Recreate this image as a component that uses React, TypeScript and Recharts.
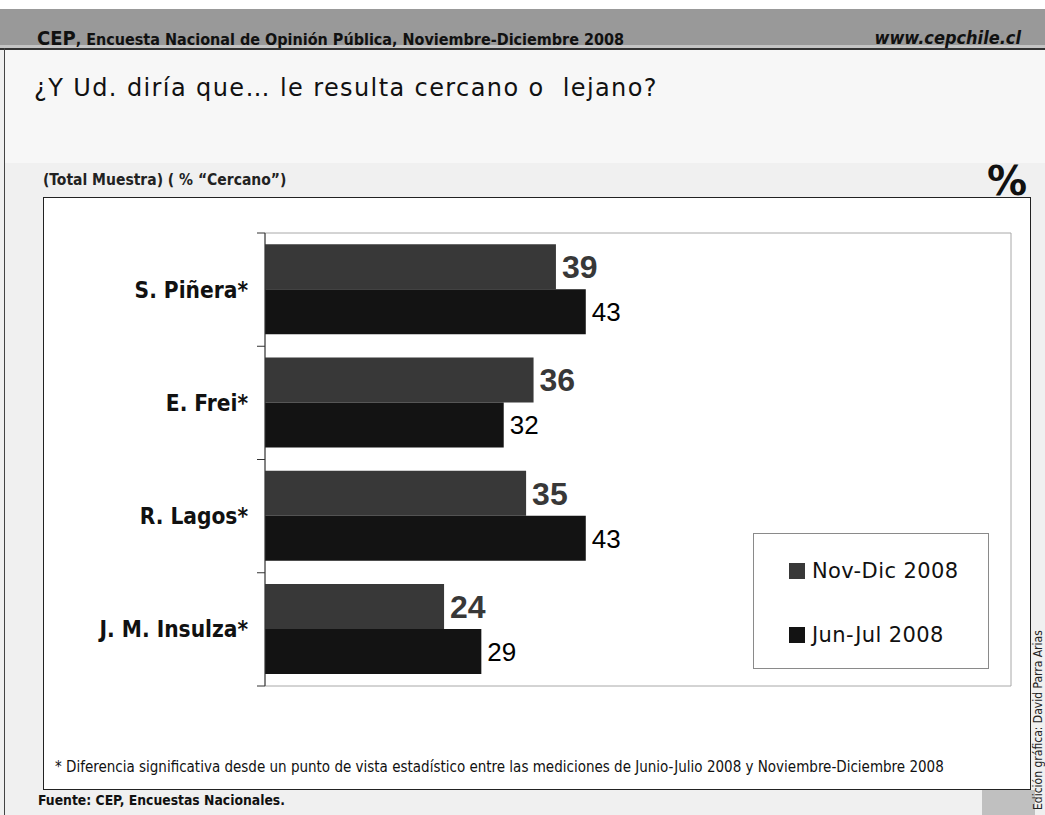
import React from 'react';
import { BarChart, Bar, XAxis, YAxis, Legend, LabelList, ReferenceArea } from 'recharts';

// values
const candidates = ['S. Piñera*', 'E. Frei*', 'R. Lagos*', 'J. M. Insulza*'];
const novDic2008 = [39, 36, 35, 24];
const junJul2008 = [43, 32, 43, 29];
const seriesNames = ['Nov-Dic 2008', 'Jun-Jul 2008'];
const seriesColors = ['#383838', '#131313'];

const data = candidates.map((name, i) => ({
  name,
  novDic: novDic2008[i],
  junJul: junJul2008[i],
}));

const COND = "'DejaVu Sans Condensed', 'DejaVu Sans', sans-serif";
const SANS = "'DejaVu Sans', sans-serif";
const ARIAL = "'Liberation Sans', Arial, sans-serif";

const CHART_W = 986;
const CHART_H = 591;
const MARGIN = { top: 35, right: 19, bottom: 103, left: 0 };
const BAND = (CHART_H - MARGIN.top - MARGIN.bottom) / candidates.length;
const TICK = 8;
const TICK_GAP = 9;

// category label plus the boundary ticks between groups
const CandidateTick = (props: any) => {
  const { x, y, payload, index } = props;
  const axisX = x + TICK_GAP + TICK;
  return (
    <g>
      <line x1={axisX - TICK} x2={axisX} y1={y - BAND / 2} y2={y - BAND / 2} stroke="#333" />
      {index === candidates.length - 1 && (
        <line x1={axisX - TICK} x2={axisX} y1={y + BAND / 2} y2={y + BAND / 2} stroke="#333" />
      )}
      <text
        x={x}
        y={y}
        textAnchor="end"
        dominantBaseline="central"
        fontFamily={COND}
        fontWeight="bold"
        fontSize={22.5}
        fill="#111"
      >
        {payload.value}
      </text>
    </g>
  );
};

const LegendBox = () => (
  <div
    style={{
      width: 236,
      height: 136,
      boxSizing: 'border-box',
      border: '1px solid #8a8a8a',
      background: '#fff',
      position: 'relative',
      fontFamily: SANS,
      fontSize: 21,
      letterSpacing: 0.4,
      color: '#111',
    }}
  >
    {seriesNames.map((s, i) => (
      <div
        key={s}
        style={{
          position: 'absolute',
          left: 35,
          top: 24 + i * 64,
          height: 26,
          display: 'flex',
          alignItems: 'center',
          whiteSpace: 'nowrap',
        }}
      >
        <span style={{ width: 16, height: 16, background: seriesColors[i], marginRight: 7, display: 'inline-block' }} />
        {s}
      </div>
    ))}
  </div>
);

export default function App() {
  return (
    <div
      style={{
        position: 'absolute',
        left: 0,
        top: 0,
        width: 1045,
        height: 815,
        overflow: 'hidden',
        background: '#f0f0f0',
      }}
    >
      {/* header band */}
      <div style={{ position: 'absolute', left: 0, top: 0, width: 1045, height: 9, background: '#fff' }} />
      <div style={{ position: 'absolute', left: 0, top: 9, width: 1045, height: 36, background: '#999' }} />
      <div style={{ position: 'absolute', left: 0, top: 45, width: 1045, height: 3, background: '#c4c4c4' }} />
      <div style={{ position: 'absolute', left: 0, top: 48, width: 1045, height: 2, background: '#333' }} />
      <div style={{ position: 'absolute', left: 5, top: 50, width: 1040, height: 113, background: '#f7f7f7' }} />
      <div style={{ position: 'absolute', left: 4, top: 48, width: 1, height: 767, background: '#444' }} />

      <div
        style={{
          position: 'absolute',
          left: 37,
          top: 28,
          fontFamily: COND,
          fontWeight: 'bold',
          fontSize: 16,
          color: '#111',
          whiteSpace: 'nowrap',
          lineHeight: '20px',
        }}
      >
        <span style={{ fontSize: 20 }}>CEP</span>, Encuesta Nacional de Opinión Pública, Noviembre-Diciembre 2008
      </div>
      <div
        style={{
          position: 'absolute',
          right: 24,
          top: 28,
          fontFamily: COND,
          fontWeight: 'bold',
          fontStyle: 'italic',
          fontSize: 18,
          color: '#111',
          lineHeight: '20px',
        }}
      >
        www.cepchile.cl
      </div>

      <div
        style={{
          position: 'absolute',
          left: 34,
          top: 74,
          fontFamily: SANS,
          fontSize: 24,
          letterSpacing: 1.4,
          color: '#111',
          whiteSpace: 'pre',
          lineHeight: '28px',
        }}
      >
        {'¿Y Ud. diría que… le resulta cercano o  lejano?'}
      </div>

      <div
        style={{
          position: 'absolute',
          left: 43,
          top: 171,
          fontFamily: COND,
          fontWeight: 'bold',
          fontSize: 15.5,
          color: '#222',
          whiteSpace: 'nowrap',
          lineHeight: '18px',
        }}
      >
        (Total Muestra) ( % “Cercano”)
      </div>
      <div
        style={{
          position: 'absolute',
          left: 987,
          top: 160,
          fontFamily: SANS,
          fontWeight: 'bold',
          fontSize: 40,
          color: '#111',
          lineHeight: '42px',
        }}
      >
        %
      </div>

      {/* chart box */}
      <div
        style={{
          position: 'absolute',
          left: 43,
          top: 197,
          width: 988,
          height: 593,
          boxSizing: 'border-box',
          border: '1px solid #222',
          background: '#fff',
        }}
      >
        <BarChart
          width={CHART_W}
          height={CHART_H}
          data={data}
          layout="vertical"
          margin={MARGIN}
          barCategoryGap="10%"
          barGap={0}
        >
          <ReferenceArea x1={0} x2={100} fill="none" stroke="#a8a8a8" />
          <XAxis type="number" domain={[0, 100]} hide />
          <YAxis
            type="category"
            dataKey="name"
            width={221}
            tickLine={false}
            tickSize={TICK}
            tickMargin={TICK_GAP}
            axisLine={{ stroke: '#333' }}
            tick={<CandidateTick />}
            interval={0}
          />
          <Legend
            layout="horizontal"
            verticalAlign="middle"
            align="center"
            content={<LegendBox />}
            wrapperStyle={{ position: 'absolute', left: 709, top: 335, width: 236, height: 136 }}
          />
          <Bar dataKey="novDic" name={seriesNames[0]} fill={seriesColors[0]} isAnimationActive={false}>
            <LabelList
              dataKey="novDic"
              position="right"
              offset={6}
              fill="#383838"
              fontFamily={ARIAL}
              fontWeight="bold"
              fontSize={32}
            />
          </Bar>
          <Bar dataKey="junJul" name={seriesNames[1]} fill={seriesColors[1]} isAnimationActive={false}>
            <LabelList
              dataKey="junJul"
              position="right"
              offset={6}
              fill="#000"
              fontFamily={ARIAL}
              fontSize={26}
            />
          </Bar>
        </BarChart>

        <div
          style={{
            position: 'absolute',
            left: 11,
            top: 560,
            fontFamily: COND,
            fontSize: 15,
            color: '#111',
            whiteSpace: 'nowrap',
            lineHeight: '18px',
          }}
        >
          * Diferencia significativa desde un punto de vista estadístico entre las mediciones de Junio-Julio 2008 y
          Noviembre-Diciembre 2008
        </div>
      </div>

      <div
        style={{
          position: 'absolute',
          left: 38,
          top: 792,
          fontFamily: COND,
          fontWeight: 'bold',
          fontSize: 13.8,
          color: '#111',
          whiteSpace: 'nowrap',
          lineHeight: '16px',
        }}
      >
        Fuente: CEP, Encuestas Nacionales.
      </div>

      <div style={{ position: 'absolute', left: 982, top: 790, width: 53, height: 25, background: '#c0c0c0' }} />
      <div
        style={{
          position: 'absolute',
          left: 1032,
          top: 810,
          transform: 'rotate(-90deg)',
          transformOrigin: '0 0',
          fontFamily: COND,
          fontSize: 12,
          lineHeight: '13px',
          color: '#222',
          whiteSpace: 'nowrap',
        }}
      >
        Edición gráfica: David Parra Arias
      </div>
    </div>
  );
}
